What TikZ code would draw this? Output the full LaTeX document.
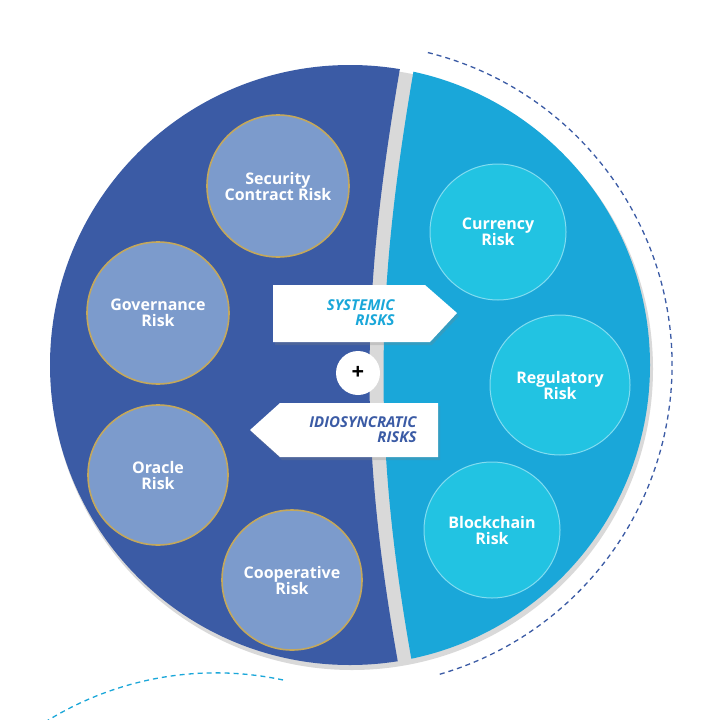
\documentclass[tikz,border=0pt]{standalone}
\usepackage{fontspec}
\setmainfont{Open Sans}
\usetikzlibrary{shadows,shapes,calc,positioning}
\definecolor{darkblue}{RGB}{59,91,165}
\definecolor{lightblue}{RGB}{26,167,217}
\definecolor{leftball}{RGB}{124,155,204}
\definecolor{rightball}{RGB}{34,195,226}
\definecolor{goldring}{RGB}{196,168,92}
\definecolor{cyanring}{RGB}{130,220,240}
\begin{document}
\begin{tikzpicture}[x=1pt,y=-1pt]
\tikzstyle{lball}=[circle,draw=goldring,line width=1.6pt,fill=leftball,minimum size=142pt,inner sep=0pt,text=white,align=center,font=\fontsize{16}{20}\selectfont\bfseries]
\tikzstyle{rball}=[circle,draw=cyanring,line width=1pt,fill=rightball,minimum size=136pt,inner sep=0pt,text=white,align=center,font=\fontsize{16}{20}\selectfont\bfseries]
\tikzstyle{sign}=[fill=white,draw=none,drop shadow={opacity=0.25,shadow xshift=2pt,shadow yshift=-3pt},inner sep=0pt,outer sep=0pt,font=\fontsize{15}{18}\selectfont\bfseries\itshape,align=right]
\useasboundingbox (0,0) rectangle (708,720);
\fill[white] (0,0) rectangle (708,720);

\coordinate (O) at (350,365);
% outer dashed rings
\draw[lightblue,dashed,line width=1.3pt,dash pattern=on 5pt off 4pt] (O) ++(78:-322 and 322) arc[start angle=-78,end angle=-279,radius=322];
\draw[darkblue,dashed,line width=1.3pt,dash pattern=on 5pt off 4pt] (O) ++(-76:322) arc[start angle=-76,end angle=74,radius=322];

% disc halves
\fill[gray!30] (352,369) circle (301);
\begin{scope}
\clip (O) circle (300);
\fill[darkblue] (0,0) -- (405,40) .. controls (358,300) and (358,450) .. (403,690) -- (0,720) -- cycle;
\fill[lightblue] (708,0) -- (419,40) .. controls (372,300) and (372,450) .. (417,690) -- (708,720) -- cycle;
\end{scope}

% left risks
\node[lball] (sec) at (278,186) {Security\\[-4pt]Contract Risk};
\node[lball] (gov) at (158,313) {Governance\\[-4pt]Risk};
\node[lball,minimum size=140pt] (ora) at (158,475) {Oracle\\[-4pt]Risk};
\node[lball,minimum size=140pt] (coo) at (292,580) {Cooperative\\[-4pt]Risk};
% right risks
\node[rball] (cur) at (498,232) {Currency\\[-4pt]Risk};
\node[rball,minimum size=140pt] (reg) at (560,385) {Regulatory\\[-4pt]Risk};
\node[rball] (blo) at (492,530) {Blockchain\\[-4pt]Risk};

% signs
\fill[sign] (273,285) -- (425,285) -- (457,313) -- (430,342) -- (273,342) -- cycle;
\node[text=lightblue,font=\fontsize{15}{18}\selectfont\bfseries\itshape,align=right,anchor=east] (sys) at (398,313) {SYSTEMIC\\[-3pt]RISKS};
\fill[sign] (250,430) -- (280,403) -- (438,403) -- (438,457) -- (280,457) -- cycle;
\node[text=darkblue,font=\fontsize{15}{18}\selectfont\bfseries\itshape,align=right,anchor=east] (idi) at (420,430) {IDIOSYNCRATIC\\[-3pt]RISKS};
\node[circle,fill=white,minimum size=44pt,inner sep=0pt,font=\fontsize{22}{22}\selectfont\bfseries] (plus) at (358,373) {+};
\end{tikzpicture}
\end{document}
